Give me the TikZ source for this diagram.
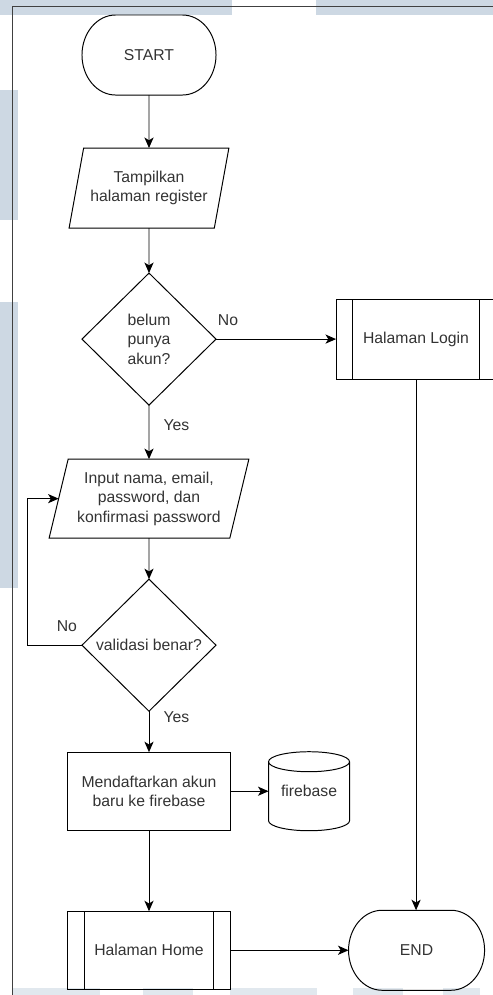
\documentclass[tikz,border=0pt]{standalone}
\usepackage{fontspec}
\setmainfont{Liberation Sans}
\usetikzlibrary{arrows.meta, positioning, shapes.geometric, backgrounds}
\definecolor{wmblue}{HTML}{CDD8E3}
\definecolor{txtgray}{HTML}{333333}

% border of a start/end terminal (elliptic ends)
\newcommand{\termborder}[1]{%
  \draw[line width=0.7pt] ([xshift=0.84cm]#1.north west) -- ([xshift=-0.84cm]#1.north east)
    arc[start angle=90, end angle=-90, x radius=0.84cm, y radius=1cm]
    -- ([xshift=0.84cm]#1.south west)
    arc[start angle=270, end angle=90, x radius=0.84cm, y radius=1cm] -- cycle;}

\begin{document}
\begin{tikzpicture}[
    x=0.025cm, y=-0.025cm,
    >={Stealth[length=7.5pt, width=6.5pt, inset=2pt]},
    every node/.style={font=\fontsize{11.2}{13.8}\selectfont, text=txtgray, outer sep=0pt},
    termbox/.style={minimum width=3.35cm, minimum height=2cm, align=center},
    iobox/.style={draw, trapezium, trapezium stretches=true, trapezium left angle=72,
                  trapezium right angle=108, minimum width=4cm, minimum height=2cm,
                  align=center, line width=0.7pt},
    decbox/.style={draw, diamond, aspect=1, inner sep=0pt, minimum width=3.35cm,
                   minimum height=3.3cm, align=center, line width=0.7pt},
    procbox/.style={draw, rectangle, minimum width=4.075cm, minimum height=1.95cm,
                    align=center, line width=0.7pt},
    pagebox/.style={procbox, path picture={
        \draw[line width=0.7pt] ([xshift=0.42cm]path picture bounding box.north west) -- ([xshift=0.42cm]path picture bounding box.south west)
                                ([xshift=-0.42cm]path picture bounding box.north east) -- ([xshift=-0.42cm]path picture bounding box.south east);}},
    dbbox/.style={rectangle, minimum width=2.025cm, minimum height=1.975cm, align=center},
    arr/.style={->, line width=0.7pt},
    lbl/.style={inner sep=1pt},
]
\useasboundingbox (0,0) rectangle (493,995);

% watermark and page frame
\begin{scope}[on background layer]
\fill[wmblue] (0,0) rectangle (232,15);
\fill[wmblue] (316,0) rectangle (493,15);
\fill[wmblue] (0,90) rectangle (18,220);
\fill[wmblue] (0,302) rectangle (18,588);
\fill[wmblue!60] (13,988) rectangle (100,995);
\fill[wmblue!60] (143,988) rectangle (193,995);
\fill[wmblue!60] (230,988) rectangle (317,995);
\fill[wmblue!60] (353,988) rectangle (403,995);
\fill[wmblue!60] (443,988) rectangle (480,995);
\end{scope}
\draw[line width=0.6pt, black!75] (12,995) -- (12,6) -- (493,6);

% Start
\node[termbox] (start) at (149,55) {START};
\termborder{start}

% Register page
\node[iobox, below=1.325cm of start] (showreg) {Tampilkan\\halaman register};

% Has account?
\node[decbox, below=1.125cm of showreg] (hasacc) {belum\\punya\\akun?};
\node[pagebox, minimum width=4cm, minimum height=2cm, right=3cm of hasacc] (login) {Halaman Login};

% Input data
\node[iobox, minimum width=5cm, minimum height=1.975cm, trapezium left angle=74,
      trapezium right angle=106, below=1.35cm of hasacc] (input) {Input nama, email,\\password, dan\\konfirmasi password};

% Validation
\node[decbox, below=1.025cm of input] (valid) {validasi benar?};

% Register account
\node[procbox, below=1.025cm of valid] (register) {Mendaftarkan akun\\baru ke firebase};
\node[dbbox, right=0.95cm of register] (fb) {firebase};
\draw[line width=0.7pt] ([yshift=-0.25cm]fb.north west) -- ([yshift=0.25cm]fb.south west)
    arc[start angle=180, end angle=360, x radius=1.0125cm, y radius=0.25cm]
    -- ([yshift=-0.25cm]fb.north east)
    arc[start angle=0, end angle=180, x radius=1.0125cm, y radius=0.25cm]
    arc[start angle=180, end angle=360, x radius=1.0125cm, y radius=0.25cm];

% Home and End
\node[pagebox, below=2.025cm of register] (home) {Halaman Home};
\node[termbox, minimum width=3.4cm, right=2.95cm of home] (finish) {END};
\termborder{finish}

% Arrows
\draw[arr] (start) -- (showreg);
\draw[arr] (showreg) -- (hasacc);
\draw[arr] (hasacc) -- node[lbl, pos=0.1, above=0.3cm] {No} (login);
\draw[arr] (hasacc) -- node[lbl, pos=0.37, right=0.33cm] {Yes} (input);
\draw[arr] (input) -- (valid);
\draw[arr] (valid.west) -- node[lbl, pos=0.28, above=0.3cm] {No} ++(-1.35cm,0) |- (input.left side);
\draw[arr] (valid) -- node[lbl, pos=0.15, right=0.33cm] {Yes} (register);
\draw[arr] (register) -- (fb);
\draw[arr] (register) -- (home);
\draw[arr] (login.south) -- (login.south |- finish.north);
\draw[arr] (home) -- (finish);

\end{tikzpicture}
\end{document}
